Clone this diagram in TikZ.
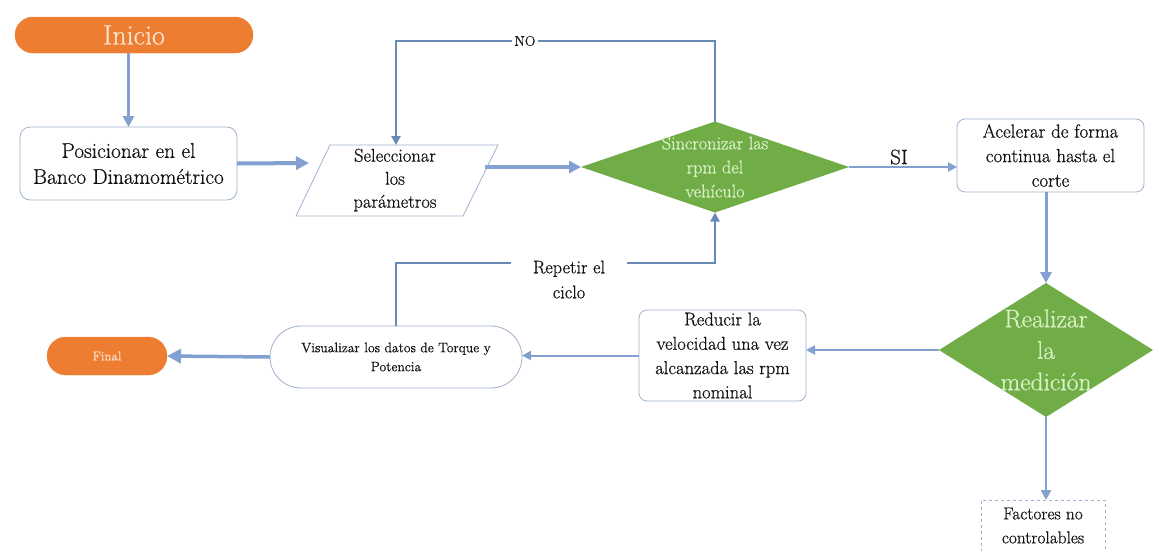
\documentclass[tikz,border=0pt]{standalone}
\usepackage{fontspec}
\setmainfont{Latin Modern Roman}[UprightFeatures={FakeBold=0.6}]
\usetikzlibrary{arrows.meta,shapes.geometric}

\definecolor{flowblue}{RGB}{130,160,208}
\definecolor{loopblue}{RGB}{105,138,182}
\definecolor{termorange}{RGB}{237,125,49}
\definecolor{decgreen}{RGB}{112,173,71}
\definecolor{boxline}{RGB}{160,178,206}
\definecolor{dectext}{RGB}{218,242,200}
\definecolor{termtext}{RGB}{252,228,210}
\definecolor{bodytext}{RGB}{20,20,20}

\begin{document}
\begin{tikzpicture}[x=1pt,y=-1pt,
  every node/.style={inner sep=0pt, outer sep=0pt, text=bodytext},
  terminal/.style={draw=termorange, fill=termorange, rounded corners=#1, text=termtext},
  procbox/.style={draw=boxline, line width=0.8pt, fill=white, align=center},
  decision/.style={diamond, fill=decgreen, inner sep=0pt},
  dectxt/.style={text=dectext, align=center},
  conn/.style={draw=flowblue, line width=#1},
  tip/.style={-{Triangle[length=#1,width=#1]}},
  loopline/.style={draw=loopblue, line width=2.2pt},
]
% canvas
\fill[white] (0,0) rectangle (1153,550);
\useasboundingbox (0,0) rectangle (1153,550);

% ---- shapes ----
\node[terminal=18, minimum width=238, minimum height=36,
      font=\fontsize{28}{30}\selectfont] (inicio) at (134,35) {Inicio};

\node[procbox, rounded corners=10, minimum width=217, minimum height=73,
      font=\fontsize{21.3}{26}\selectfont] (pos) at (128.5,163.5)
      {Posicionar en el\\Banco Dinamométrico};

% input/output parallelogram
\coordinate (selTL) at (330,145);
\coordinate (selTR) at (498,145);
\coordinate (selBR) at (463,216);
\coordinate (selBL) at (296,216);
\draw[boxline, line width=0.8pt] (selTL) -- (selTR) -- (selBR) -- (selBL) -- cycle;
\node[align=center, font=\fontsize{18.5}{23}\selectfont] (sel) at (395,180)
      {Seleccionar\\los\\parámetros};
\coordinate (selIn) at (309,163);
\coordinate (selOut) at (485,167);
\coordinate (selTop) at (396,145);

\node[decision, minimum width=268, minimum height=91] (sync) at (715,167) {};
\node[dectxt, font=\fontsize{18.2}{24}\selectfont] (synctxt) at (715,167)
      {Sincronizar las\\rpm del\\vehículo};

\node[procbox, rounded corners=8, minimum width=187, minimum height=73,
      font=\fontsize{19}{24.5}\selectfont] (acel) at (1050.5,155.5)
      {Acelerar de forma\\continua hasta el\\corte};

\node[decision, minimum width=214, minimum height=134] (real) at (1046,350) {};
\node[dectxt, font=\fontsize{25.5}{31.5}\selectfont] (realtxt) at (1046,350)
      {Realizar\\la\\medición};

\node[procbox, rounded corners=8, minimum width=167, minimum height=91,
      font=\fontsize{18.6}{24.3}\selectfont] (red) at (722.5,355.5)
      {Reducir la\\velocidad una vez\\alcanzada las rpm\\nominal};

\node[procbox, rounded corners=31, minimum width=252, minimum height=62,
      font=\fontsize{13.7}{19}\selectfont] (vis) at (396,357)
      {Visualizar los datos de Torque y\\Potencia};

\node[terminal=19, minimum width=120, minimum height=38,
      font=\fontsize{13}{16}\selectfont] (final) at (107,356) {Final};

\node[draw=boxline, dashed, line width=0.8pt, minimum width=124, minimum height=51,
      align=center, font=\fontsize{17.3}{24}\selectfont] (fact) at (1043,525.5)
      {Factores no\\controlables};

% ---- connectors ----
\draw[conn=3pt, tip=11pt] (pos.north |- inicio.south) -- (pos.north);
\draw[conn=4pt, tip=13pt] (pos.east) -- (selIn);
\draw[conn=3.5pt, tip=12pt] (selOut) -- (sync.west);
\draw[conn=2pt, tip=9pt] (sync.east) -- (sync.east -| acel.west);
\draw[conn=3pt, tip=11pt] (real.north |- acel.south) -- (real.north);
\draw[conn=2pt, tip=9pt] (real.west) -- (real.west -| red.east);
\draw[conn=2pt, tip=9pt] (red.west) -- (red.west -| vis.east);
\draw[conn=3.5pt, tip=14pt] (vis.west) -- (final.east);
\draw[conn=2.5pt, tip=10pt] (real.south) -- (real.south |- fact.north);

% "NO" return loop
\coordinate (noTurn) at (396,41);
\draw[loopline, tip=9pt] (sync.north) |- (noTurn) -- (selTop);
% "Repetir el ciclo" return loop
\coordinate (repTurn) at (396,263);
\draw[loopline, tip=9pt] (vis.north) -- (vis.north |- repTurn) -| (sync.south);

% ---- labels ----
\node[fill=white, inner xsep=3pt, inner ysep=2pt, font=\fontsize{14}{14}\selectfont] (nolbl) at (525,41) {NO};
\node[font=\fontsize{21}{21}\selectfont] (silbl) at (899,157) {SI};
\node[fill=white, minimum width=116, align=center, font=\fontsize{18.3}{25}\selectfont] (replbl) at (569,279.5)
      {Repetir el\\ciclo};
\end{tikzpicture}
\end{document}
